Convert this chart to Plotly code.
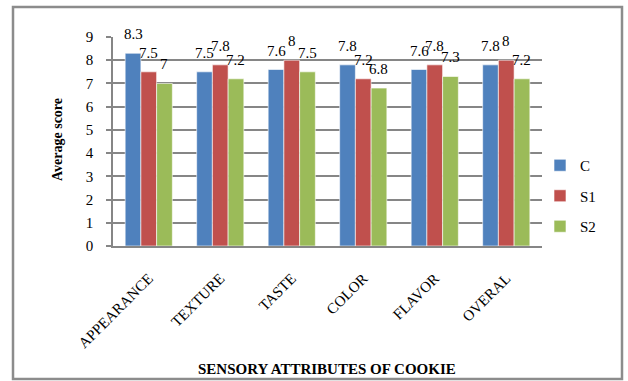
import plotly.graph_objects as go

# Sensory scores of cookie samples
attributes = ["APPEARANCE", "TEXTURE", "TASTE", "COLOR", "FLAVOR", "OVERAL"]
series_names = ["C", "S1", "S2"]
scores_c = [8.3, 7.5, 7.6, 7.8, 7.6, 7.8]
scores_s1 = [7.5, 7.8, 8, 7.2, 7.8, 8]
scores_s2 = [7, 7.2, 7.5, 6.8, 7.3, 7.2]
colors = ["#4F81BD", "#C0504D", "#9BBB59"]
y_ticks = list(range(0, 10))

W, H = 628, 381
M_L, M_R, M_T, M_B = 113, 86, 37, 135
PLOT_W = W - M_L - M_R
PLOT_H = H - M_T - M_B
BARGAP = 0.34
FONT = "Liberation Serif, Times New Roman, serif"

fig = go.Figure()
all_scores = [scores_c, scores_s1, scores_s2]
for i, (name, vals) in enumerate(zip(series_names, all_scores)):
    fig.add_trace(go.Bar(
        x=attributes, y=vals, name=name,
        marker=dict(color=colors[i], line=dict(color="white", width=0.6)),
        legendgroup=name,
    ))

# Value labels above each bar
cat_w = PLOT_W / len(attributes)
bar_w = cat_w * (1 - BARGAP) / len(series_names)
for i, vals in enumerate(all_scores):
    offset = (i - 1) * bar_w
    for cat, v in zip(attributes, vals):
        fig.add_annotation(
            x=cat, y=v, text=f"{v:g}", showarrow=False,
            xshift=offset, yshift=19, yanchor="middle",
            font=dict(family=FONT, size=15, color="black"),
        )

# Axis titles
fig.add_annotation(
    xref="paper", yref="paper", x=(57 - M_L) / PLOT_W, y=(H - M_B - 140) / PLOT_H,
    xanchor="center", yanchor="middle",
    text="<b>Average score</b>", textangle=-90, showarrow=False,
    font=dict(family=FONT, size=14, color="black"),
)
fig.add_annotation(
    xref="paper", yref="paper", x=(327 - M_L) / PLOT_W, y=(H - M_B - 369) / PLOT_H,
    xanchor="center", yanchor="middle",
    text="<b>SENSORY ATTRIBUTES OF COOKIE</b>", showarrow=False,
    font=dict(family=FONT, size=15, color="black"),
)

# Outer chart frame
fig.add_shape(
    type="rect", xref="paper", yref="paper",
    x0=(13 - M_L) / PLOT_W, x1=(622 - M_L) / PLOT_W,
    y0=(H - M_B - 379) / PLOT_H, y1=(H - M_B - 7) / PLOT_H,
    line=dict(color="#8C8C8C", width=2.5), layer="below",
)

fig.update_layout(
    width=W, height=H,
    margin=dict(l=M_L, r=M_R, t=M_T, b=M_B),
    paper_bgcolor="white", plot_bgcolor="white",
    barmode="group", bargap=BARGAP, bargroupgap=0,
    font=dict(family=FONT, size=14, color="black"),
    showlegend=True,
    legend=dict(
        x=(540 - M_L) / PLOT_W, y=(H - M_B - 149) / PLOT_H,
        xanchor="left", yanchor="top",
        traceorder="grouped", tracegroupgap=8,
        font=dict(family=FONT, size=15, color="black"),
        bgcolor="rgba(0,0,0,0)",
    ),
    xaxis=dict(
        tickangle=-45, tickfont=dict(family=FONT, size=15),
        ticklabelstandoff=16,
        showline=True, linecolor="#868686", linewidth=1.5,
        ticks="", showgrid=False,
    ),
    yaxis=dict(
        range=[0, 9], tickvals=y_ticks,
        tickfont=dict(family=FONT, size=15),
        ticklabelstandoff=10,
        showgrid=True, gridcolor="#868686", gridwidth=1.5,
        showline=True, linecolor="#868686", linewidth=1.5,
        ticks="outside", ticklen=5, tickcolor="#868686", tickwidth=1.5,
        zeroline=False,
    ),
)

fig.write_html("out.html")
